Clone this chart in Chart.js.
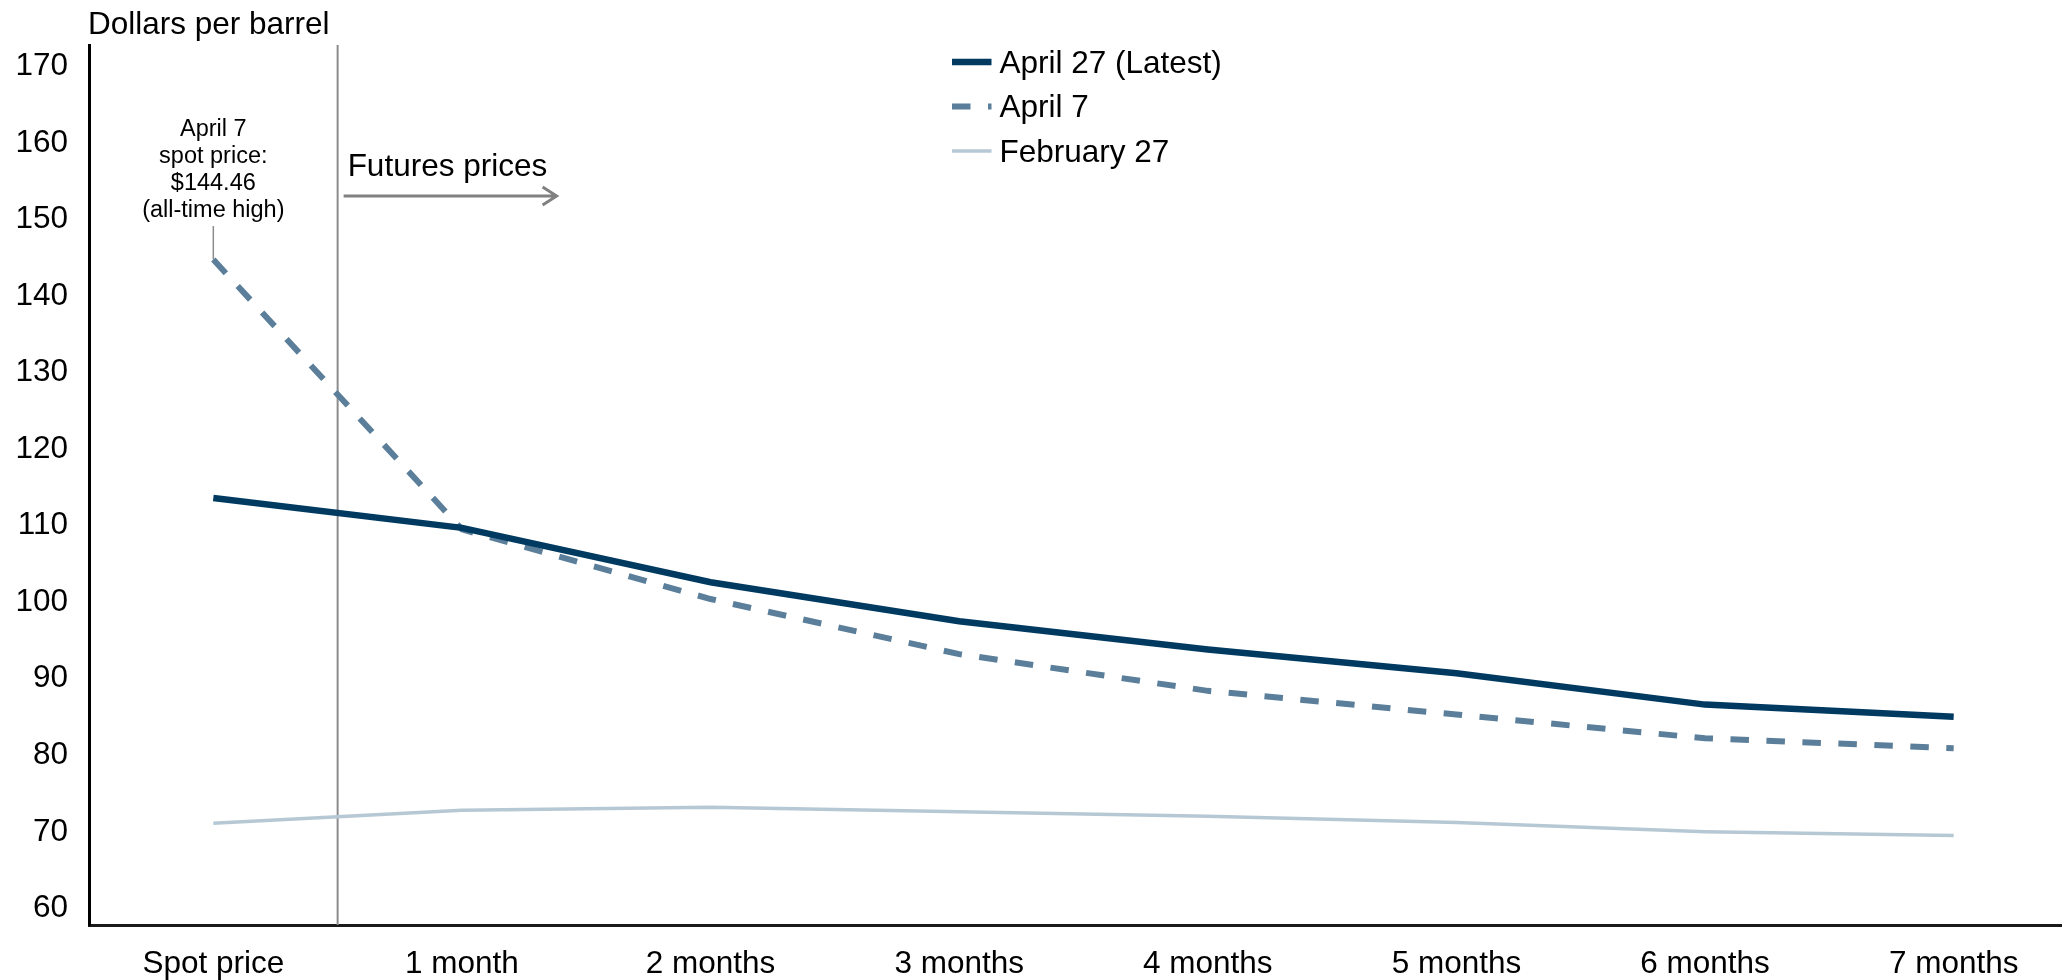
<!DOCTYPE html>
<html>
<head>
<meta charset="utf-8">
<script src="https://cdn.jsdelivr.net/npm/chart.js@4.4.1/dist/chart.umd.min.js"></script>
<style>
  html, body { margin: 0; padding: 0; background: #fff; overflow: hidden; }
  #wrap { width: 2078px; height: 980px; }
</style>
</head>
<body>
<div id="wrap"><canvas id="c" width="2078" height="980"></canvas></div>
<script>
// Oil futures curve: spot price and monthly contracts
const categories = ['Spot price', '1 month', '2 months', '3 months', '4 months', '5 months', '6 months', '7 months'];
const april27 = [113.3, 109.4, 102.3, 97.2, 93.5, 90.4, 86.3, 84.7];
const april7 = [144.46, 109.2, 100.1, 92.9, 88.1, 85.0, 81.9, 80.6];
const february27 = [70.8, 72.5, 72.9, 72.3, 71.7, 70.9, 69.7, 69.2];
const seriesNames = ['April 27 (Latest)', 'April 7', 'February 27'];
const yTickValues = [60, 70, 80, 90, 100, 110, 120, 130, 140, 150, 160, 170];
const yMin = 57.5, yMax = 172.5;

const FONT = '"Liberation Sans", Arial, Helvetica, sans-serif';

// Draws the spot/futures divider, annotation, arrow, axis title and legend
const decorations = {
  id: 'decorations',
  beforeDatasetsDraw(chart) {
    const { ctx, chartArea, scales: { x } } = chart;
    const divX = (x.getPixelForValue(0) + x.getPixelForValue(1)) / 2;
    ctx.save();
    ctx.strokeStyle = '#8c8c8c';
    ctx.lineWidth = 2;
    ctx.beginPath();
    ctx.moveTo(divX, chartArea.top);
    ctx.lineTo(divX, chartArea.bottom);
    ctx.stroke();
    ctx.restore();
  },
  afterDraw(chart) {
    const { ctx, chartArea, scales: { x, y } } = chart;
    ctx.save();

    // axis title
    ctx.fillStyle = '#000';
    ctx.font = '31.5px ' + FONT;
    ctx.textAlign = 'left';
    ctx.textBaseline = 'middle';
    ctx.fillText('Dollars per barrel', chartArea.left - 1, 25);

    // spot price annotation
    const spotX = x.getPixelForValue(0);
    const spotY = y.getPixelForValue(april7[0]);
    ctx.font = '23.5px ' + FONT;
    ctx.textAlign = 'center';
    const lines = ['April 7', 'spot price:', '$' + april7[0].toFixed(2), '(all-time high)'];
    lines.forEach((t, i) => ctx.fillText(t, spotX, 130 + i * 27));
    ctx.strokeStyle = '#8c8c8c';
    ctx.lineWidth = 1.5;
    ctx.beginPath();
    ctx.moveTo(spotX, 226);
    ctx.lineTo(spotX, spotY);
    ctx.stroke();

    // futures label and arrow
    const divX = (x.getPixelForValue(0) + x.getPixelForValue(1)) / 2;
    ctx.fillStyle = '#000';
    ctx.font = '31.5px ' + FONT;
    ctx.textAlign = 'left';
    ctx.fillText('Futures prices', divX + 10, 167);
    const ay = 196, ax0 = divX + 6, ax1 = divX + 219;
    ctx.strokeStyle = '#808080';
    ctx.lineWidth = 3;
    ctx.beginPath();
    ctx.moveTo(ax0, ay);
    ctx.lineTo(ax1, ay);
    ctx.moveTo(ax1 - 14, ay - 9);
    ctx.lineTo(ax1, ay);
    ctx.lineTo(ax1 - 14, ay + 9);
    ctx.stroke();

    // legend
    const lx = 952, ly = 62, rowH = 44.5, sample = 39.5;
    chart.data.datasets.forEach((ds, i) => {
      const yy = ly + i * rowH;
      ctx.strokeStyle = ds.borderColor;
      ctx.lineWidth = ds.borderWidth;
      ctx.lineCap = 'butt';
      ctx.setLineDash(ds.borderDash || []);
      ctx.beginPath();
      ctx.moveTo(lx, yy);
      ctx.lineTo(lx + sample, yy);
      ctx.stroke();
      ctx.setLineDash([]);
      ctx.fillStyle = '#000';
      ctx.font = '31.5px ' + FONT;
      ctx.textAlign = 'left';
      ctx.fillText(ds.label, lx + sample + 8, yy + 2);
    });
    ctx.restore();
  }
};

new Chart(document.getElementById('c'), {
  type: 'line',
  data: {
    labels: categories,
    datasets: [
      { label: seriesNames[0], data: april27, borderColor: '#003a61', borderWidth: 6.5, pointRadius: 0, tension: 0 },
      { label: seriesNames[1], data: april7, borderColor: '#5b7f9a', borderWidth: 6, borderDash: [18.5, 17.5], pointRadius: 0, tension: 0 },
      { label: seriesNames[2], data: february27, borderColor: '#b6c8d4', borderWidth: 3.5, pointRadius: 0, tension: 0 }
    ]
  },
  options: {
    responsive: false,
    animation: false,
    devicePixelRatio: 1,
    layout: { padding: { top: 45, left: 0, right: 0, bottom: 0 } },
    plugins: { legend: { display: false }, title: { display: false }, tooltip: { enabled: false } },
    scales: {
      x: {
        offset: true,
        grid: { display: false, drawTicks: false },
        border: { display: true, color: '#1a1a1a', width: 3 },
        ticks: { color: '#000', font: { family: FONT, size: 31.5 }, padding: 20, maxRotation: 0, autoSkip: false },
        afterFit(scale) { scale.height = 55; }
      },
      y: {
        min: yMin,
        max: yMax,
        grid: { display: false, drawTicks: false },
        border: { display: true, color: '#000', width: 3 },
        ticks: { color: '#000', font: { family: FONT, size: 31.5 }, padding: 21, labelOffset: 2.5 },
        afterBuildTicks(scale) { scale.ticks = yTickValues.map(v => ({ value: v })); },
        afterFit(scale) { scale.width = 89; }
      }
    }
  },
  plugins: [decorations]
});
</script>
</body>
</html>
